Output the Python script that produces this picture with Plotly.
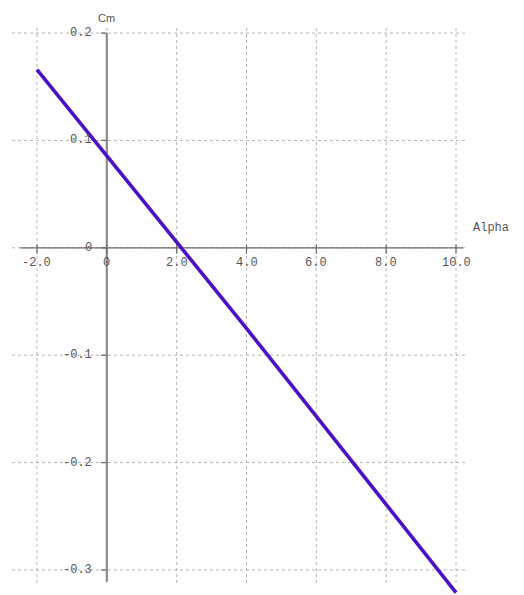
import plotly.graph_objects as go

# Pitching-moment coefficient versus angle of attack
alpha = [-2, -1, 0, 1, 2, 3, 4, 5, 6, 7, 8, 9, 10]
cm = [0.166, 0.126, 0.086, 0.046, 0.006, -0.034, -0.075, -0.116,
      -0.157, -0.198, -0.239, -0.280, -0.321]

x_ticks = [-2, 0, 2, 4, 6, 8, 10]
x_tick_text = ["-2.0", "0", "2.0", "4.0", "6.0", "8.0", "10.0"]
y_ticks = [0.2, 0.1, 0, -0.1, -0.2, -0.3]
y_tick_text = ["0.2", "0.1", "0", "-0.1", "-0.2", "-0.3"]

x_title = "Alpha"
y_title = "Cm"

MONO = "Liberation Mono, Courier New, monospace"
LABEL_COLOR = "#555555"
GRID_COLOR = "#b4b4b4"
AXIS_COLOR = "#6a6a6a"

# extent of the dashed grid (a little beyond the outer ticks)
grid_x = (x_ticks[0] - 0.715, x_ticks[-1] + 0.286)
grid_y = (min(y_ticks) - 0.0121, max(y_ticks) + 0.0047)

fig = go.Figure()
fig.add_trace(go.Scatter(
    x=alpha, y=cm, mode="lines",
    line=dict(color="#4a12c4", width=3.6),
    hoverinfo="x+y",
))

shapes = []
# dashed grid
for xv in x_ticks:
    shapes.append(dict(type="line", xref="x", yref="y",
                       x0=xv, x1=xv, y0=grid_y[0], y1=grid_y[1],
                       line=dict(color=GRID_COLOR, width=1, dash="3px,3px"),
                       layer="below"))
for yv in y_ticks:
    shapes.append(dict(type="line", xref="x", yref="y",
                       x0=grid_x[0], x1=grid_x[1], y0=yv, y1=yv,
                       line=dict(color=GRID_COLOR, width=1, dash="3px,3px"),
                       layer="below"))
# axes crossing at the origin
shapes.append(dict(type="line", xref="x", yref="y",
                   x0=x_ticks[0] - 0.48, x1=x_ticks[-1] + 0.2, y0=0, y1=0,
                   line=dict(color=AXIS_COLOR, width=1.3), layer="below"))
shapes.append(dict(type="line", xref="x", yref="y",
                   x0=0, x1=0, y0=min(y_ticks) - 0.011, y1=max(y_ticks),
                   line=dict(color="#8c8c8c", width=2.2), layer="below"))
# tick marks on the x axis
for xv in x_ticks:
    shapes.append(dict(type="line", xref="x", yref="y",
                       ysizemode="pixel", yanchor=0,
                       x0=xv, x1=xv, y0=-6, y1=3,
                       line=dict(color=AXIS_COLOR, width=1.2), layer="below"))
# tick marks on the y axis
for yv in y_ticks:
    shapes.append(dict(type="line", xref="x", yref="y",
                       xsizemode="pixel", xanchor=0,
                       x0=-6, x1=0, y0=yv, y1=yv,
                       line=dict(color=AXIS_COLOR, width=1.2), layer="below"))

annotations = []
for xv, txt in zip(x_ticks, x_tick_text):
    annotations.append(dict(x=xv, y=0, xref="x", yref="y", text=txt,
                            showarrow=False, xanchor="center", yanchor="middle",
                            yshift=-15,
                            font=dict(family=MONO, size=12, color=LABEL_COLOR)))
for yv, txt in zip(y_ticks, y_tick_text):
    annotations.append(dict(x=0, y=yv, xref="x", yref="y", text=txt,
                            showarrow=False, xanchor="right", yanchor="middle",
                            xshift=-13,
                            font=dict(family=MONO, size=12, color=LABEL_COLOR)))
annotations.append(dict(x=0, y=max(y_ticks), xref="x", yref="y", text=y_title,
                        showarrow=False, xanchor="center", yanchor="middle",
                        yshift=15,
                        font=dict(family="Liberation Sans, Arial, sans-serif",
                                  size=11, color=LABEL_COLOR)))
annotations.append(dict(x=x_ticks[-1], y=0, xref="x", yref="y", text=x_title,
                        showarrow=False, xanchor="left", yanchor="middle",
                        xshift=15, yshift=20,
                        font=dict(family=MONO, size=12, color=LABEL_COLOR)))

fig.update_layout(
    width=524, height=595, autosize=False,
    margin=dict(l=12, r=54, t=28, b=0, pad=0),
    paper_bgcolor="white", plot_bgcolor="white",
    showlegend=False,
    shapes=shapes, annotations=annotations,
    xaxis=dict(range=[-2.715, 10.40], showticklabels=False, showgrid=False,
               zeroline=False, showline=False, ticks="", fixedrange=True),
    yaxis=dict(range=[-0.3233, 0.2047], showticklabels=False, showgrid=False,
               zeroline=False, showline=False, ticks="", fixedrange=True),
)

fig.write_html("out.html")
